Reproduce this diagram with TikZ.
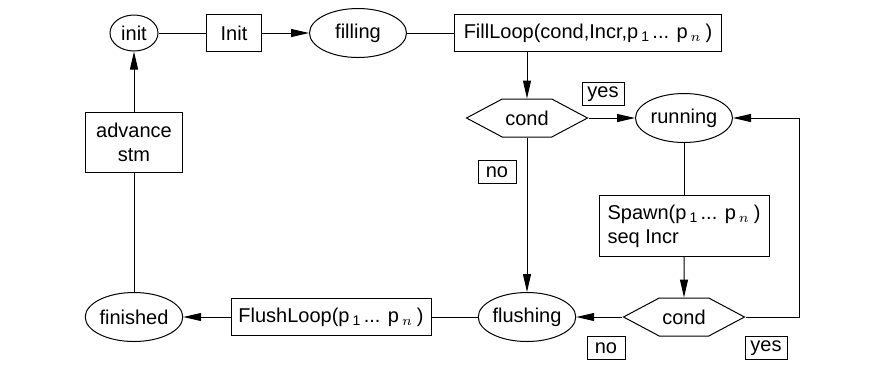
\documentclass[tikz,border=0pt]{standalone}
\usepackage{fontspec}
\setmainfont{Liberation Sans}
\usepackage{tikz}
\usetikzlibrary{shapes.geometric,shapes.symbols,arrows.meta,positioning}

\newcommand{\procSeq}{p\kern1.5pt\textsubscript{1}\kern1.2pt... p\kern1.5pt$_{n}$\kern2pt}

\begin{document}
\begin{tikzpicture}[x=0.5pt,y=-0.5pt,>={Triangle[length=9pt,width=4pt]},line width=0.5pt,
	state/.style={ellipse,draw,inner sep=0pt,minimum width=48.5pt,minimum height=24.5pt},
	action/.style={rectangle,draw,inner sep=0pt,minimum height=18.5pt},
	test/.style={signal,signal to=west and east,signal pointer angle=56,draw,inner sep=0pt,minimum width=60.5pt,minimum height=19pt},
	answer/.style={rectangle,draw,inner sep=0pt,minimum height=11.5pt}]
\useasboundingbox (0,0) rectangle (880,382);

\node[state,minimum width=24pt,minimum height=18pt](init) at (134,33){init};
\node[action,minimum width=27.5pt](initAct) at (234,33){Init};
\node[state](filling) at (358,33){filling};
\node[action,minimum width=133.5pt](fillLoop) at (588,33){FillLoop(cond,Incr,\procSeq)};

\node[test](condFill) at (527,118){cond};
\node[state](running) at (684,118){running};
\node[action,minimum width=85pt,minimum height=30.5pt,align=left](spawn) at (684,226){Spawn(\procSeq)\\seq Incr};
\node[test](condRun) at (684,317){cond};

\node[state](flushing) at (527,317){flushing};
\node[action,minimum width=100pt](flushLoop) at (331,317){FlushLoop(\procSeq)};
\node[state](finished) at (134,317){finished};
\node[action,minimum width=48.5pt,minimum height=30pt,align=center](advance) at (134,142){advance\\stm};

\node[answer,minimum width=21pt](yesFill) at (603,94){yes};
\node[answer,minimum width=19pt](noFill) at (497,172){no};
\node[answer,minimum width=19pt](noRun) at (606,348){no};
\node[answer,minimum width=21pt](yesRun) at (766,348){yes};
\coordinate (loopBack) at (799,0);

\draw     (init)--(initAct);
\draw[->] (initAct)--(filling);
\draw     (filling)--(fillLoop);
\draw[->] (fillLoop.south -| condFill)--(condFill.north);
\draw[->] (condFill.east)--(running.west);
\draw[->] (condFill.south)--(flushing.north);
\draw     (running)--(spawn);
\draw[->] (spawn)--(condRun);
\draw[->] (condRun.west)--(flushing.east);
\draw[->] (condRun.east)--(condRun.east -| loopBack) |- (running.east);
\draw     (flushing)--(flushLoop);
\draw[->] (flushLoop)--(finished);
\draw     (finished)--(advance);
\draw[->] (advance)--(init);
\end{tikzpicture}
\end{document}
